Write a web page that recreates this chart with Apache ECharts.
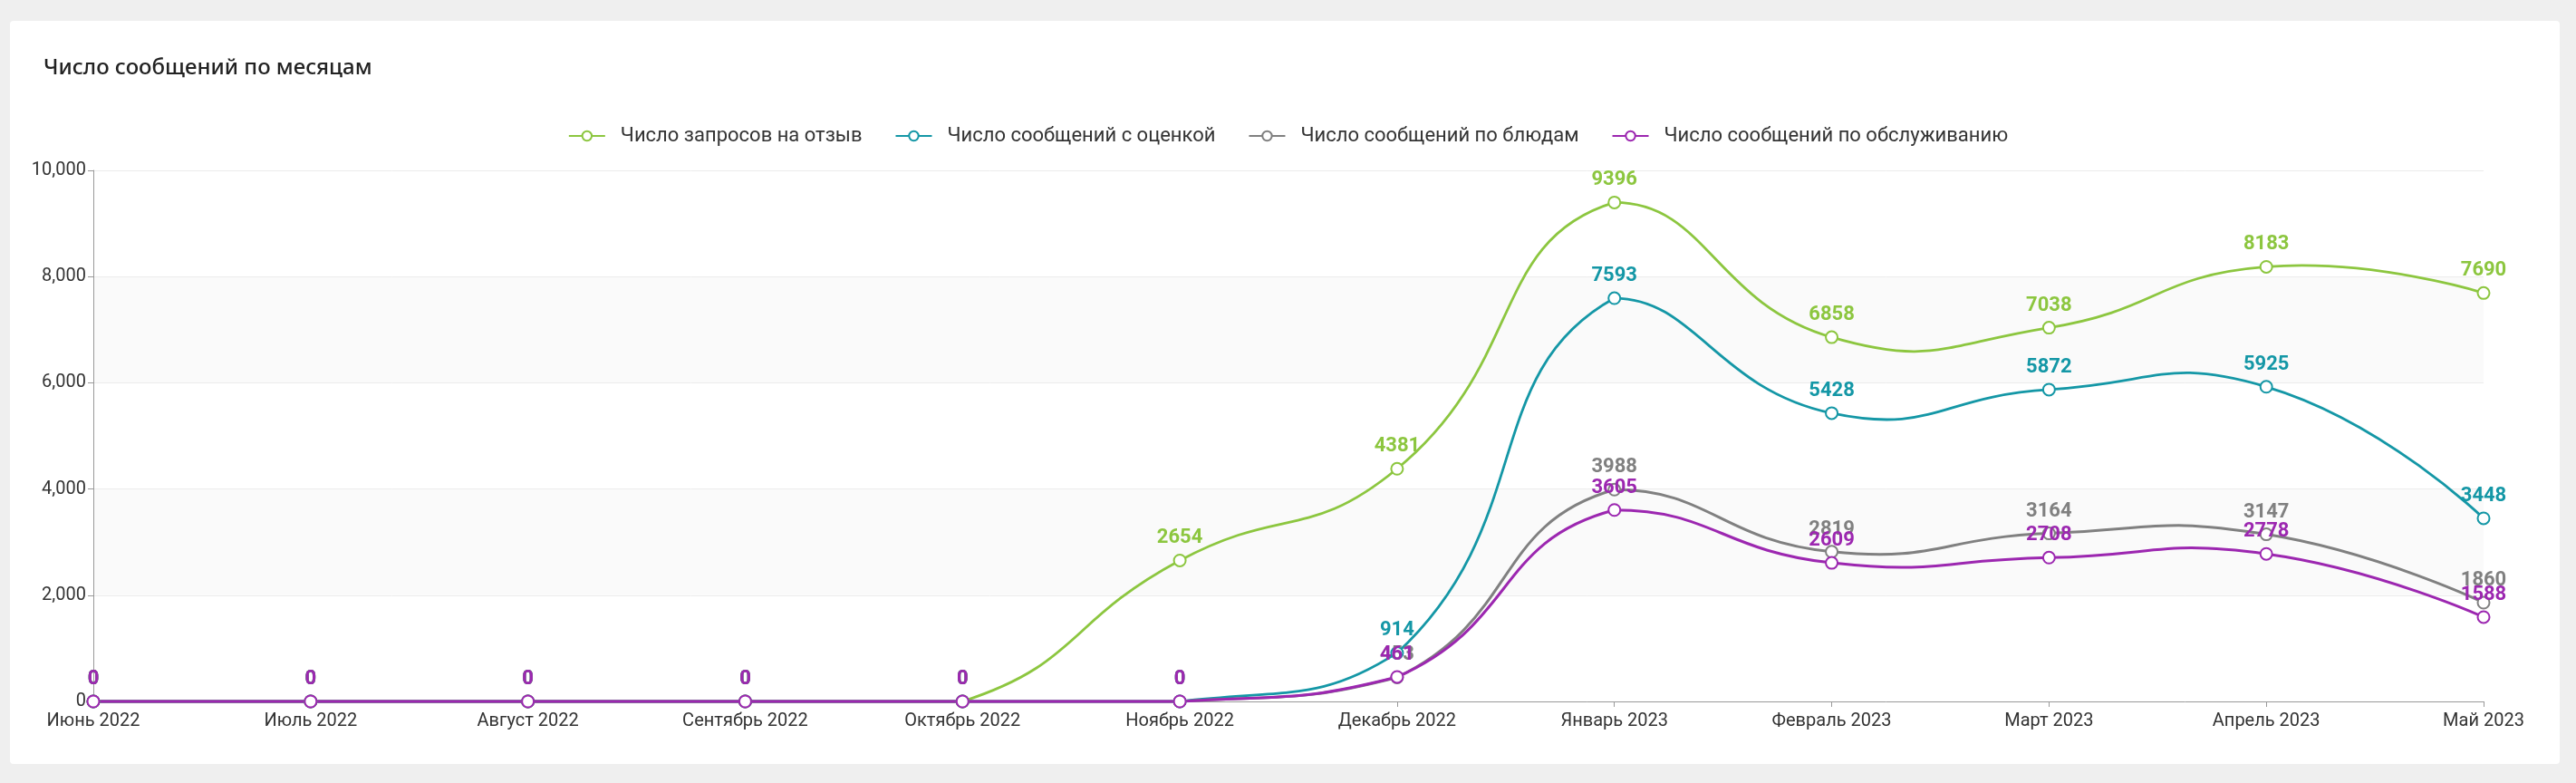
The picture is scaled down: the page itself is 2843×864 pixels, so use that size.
<!DOCTYPE html>
<html>
<head>
<meta charset="utf-8">
<script src="https://cdn.jsdelivr.net/npm/echarts@6/dist/echarts.min.js"></script>
<style>
    html, body { margin: 0; padding: 0; background: #efefef; }
    #card { position: absolute; left: 11px; top: 23px; width: 2814px; height: 820px; background: #fff; border-radius: 4px; }
    #chart { position: absolute; left: 0; top: 0; width: 2843px; height: 864px; }
</style>
</head>
<body>
<div id="card"></div>
<div id="chart"></div>
<script>
// Число сообщений по месяцам
var months = ['Июнь 2022', 'Июль 2022', 'Август 2022', 'Сентябрь 2022', 'Октябрь 2022', 'Ноябрь 2022',
    'Декабрь 2022', 'Январь 2023', 'Февраль 2023', 'Март 2023', 'Апрель 2023', 'Май 2023'];
var requests = [0, 0, 0, 0, 0, 2654, 4381, 9396, 6858, 7038, 8183, 7690]; // запросы на отзыв
var rated = [0, 0, 0, 0, 0, 0, 914, 7593, 5428, 5872, 5925, 3448]; // с оценкой
var dishes = [0, 0, 0, 0, 0, 0, 453, 3988, 2819, 3164, 3147, 1860]; // по блюдам
var service = [0, 0, 0, 0, 0, 0, 461, 3605, 2609, 2708, 2778, 1588]; // по обслуживанию
var seriesNames = ['Число запросов на отзыв', 'Число сообщений с оценкой', 'Число сообщений по блюдам', 'Число сообщений по обслуживанию'];
var colors = ['#8cc63f', '#1497a6', '#808080', '#9c27b0'];

var FONT = 'Roboto, sans-serif';
var SMOOTH = 0.5;

// сглаживание как в старых версиях (с перелётом между точками)
function smoothLine(values, color, width) {
    return {
        type: 'custom',
        silent: true,
        data: values.map(function (v, i) { return [i, v]; }),
        encode: { x: 0, y: 1 },
        renderItem: function (params, api) {
            var i = params.dataIndex;
            if (i >= values.length - 1) return;
            var pts = values.map(function (v, k) { return api.coord([k, v]); });
            var minX = Infinity, minY = Infinity, maxX = -Infinity, maxY = -Infinity;
            pts.forEach(function (p) {
                minX = Math.min(minX, p[0]); maxX = Math.max(maxX, p[0]);
                minY = Math.min(minY, p[1]); maxY = Math.max(maxY, p[1]);
            });
            function dist(a, b) { return Math.sqrt((a[0] - b[0]) * (a[0] - b[0]) + (a[1] - b[1]) * (a[1] - b[1])); }
            function ctrl(k, out) {
                var p = pts[k];
                if (k === 0 || k === pts.length - 1) return [p[0], p[1]];
                var prev = pts[k - 1], next = pts[k + 1];
                var vx = next[0] - prev[0], vy = next[1] - prev[1];
                var d0 = dist(p, prev), d1 = dist(p, next);
                var r = d1 / (d0 + d1);
                var s = out ? SMOOTH * r : -SMOOTH * (1 - r);
                return [p[0] + vx * s, p[1] + vy * s];
            }
            function clamp(c) {
                return [Math.min(maxX, Math.max(minX, c[0])), Math.min(maxY, Math.max(minY, c[1]))];
            }
            var c0 = clamp(ctrl(i, true));
            var c1 = clamp(ctrl(i + 1, false));
            return {
                type: 'bezierCurve',
                shape: {
                    x1: pts[i][0], y1: pts[i][1],
                    x2: pts[i + 1][0], y2: pts[i + 1][1],
                    cpx1: c0[0], cpy1: c0[1],
                    cpx2: c1[0], cpy2: c1[1]
                },
                style: { stroke: color, lineWidth: width, fill: null }
            };
        }
    };
}

function pointSeries(idx, data) {
    return {
        name: seriesNames[idx],
        type: 'line',
        data: data,
        symbol: 'emptyCircle',
        symbolSize: 13,
        itemStyle: { color: colors[idx], borderWidth: 2.5 },
        lineStyle: { color: colors[idx], opacity: 0 },
        label: {
            show: true,
            position: 'top',
            distance: 6,
            color: colors[idx],
            fontFamily: FONT,
            fontWeight: 'bold',
            fontSize: 22
        }
    };
}

var chart = echarts.init(document.getElementById('chart'));
var option = {
    animation: false,
    title: {
        text: 'Число сообщений по месяцам',
        left: 43,
        top: 58,
        textStyle: { fontFamily: '"Noto Sans", sans-serif', fontWeight: 500, fontSize: 24, color: '#222' }
    },
    legend: {
        top: 134,
        left: 'center',
        itemWidth: 40,
        itemHeight: 13,
        itemGap: 36,
        lineStyle: { opacity: 1, width: 2 },
        textStyle: { fontFamily: FONT, fontSize: 22, color: '#333', padding: [0, 0, 0, 12] },
        data: seriesNames
    },
    grid: { left: 103, right: 102, top: 188, bottom: 90 },
    xAxis: {
        type: 'category',
        boundaryGap: false,
        data: months,
        axisLine: { lineStyle: { color: '#999' } },
        axisTick: { show: true, length: 6, lineStyle: { color: '#999' } },
        axisLabel: { fontFamily: FONT, fontSize: 20, color: '#333', margin: 12 }
    },
    yAxis: {
        type: 'value',
        min: 0,
        max: 10000,
        interval: 2000,
        axisLine: { show: true, lineStyle: { color: '#999' } },
        axisTick: { show: true, length: 6, lineStyle: { color: '#999' } },
        axisLabel: { fontFamily: FONT, fontSize: 20, color: '#333', margin: 8 },
        splitLine: { lineStyle: { color: '#ececec' } },
        splitArea: { show: true, areaStyle: { color: ['#ffffff', '#fafafa'] } }
    },
    series: [
        smoothLine(requests, colors[0], 2.8),
        smoothLine(rated, colors[1], 2.8),
        smoothLine(dishes, colors[2], 3),
        smoothLine(service, colors[3], 3),
        pointSeries(0, requests),
        pointSeries(1, rated),
        pointSeries(2, dishes),
        pointSeries(3, service)
    ]
};
chart.setOption(option);
</script>
</body>
</html>
